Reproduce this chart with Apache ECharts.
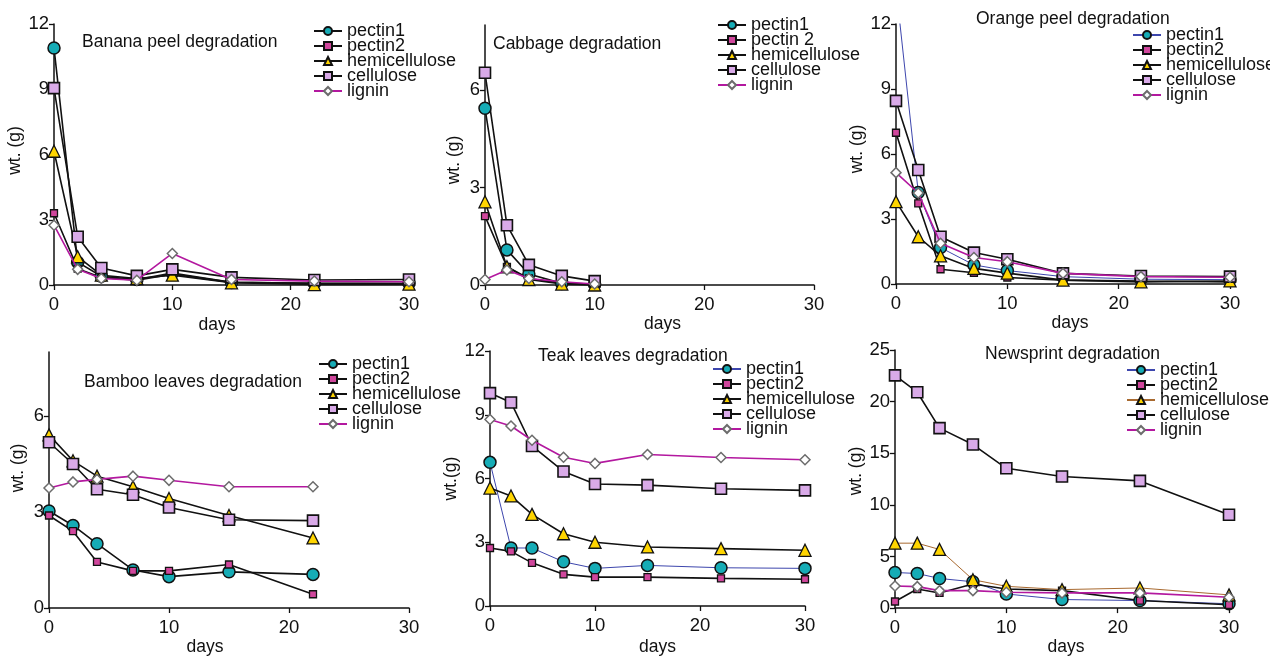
<!DOCTYPE html>
<html><head><meta charset="utf-8">
<script src="https://cdn.jsdelivr.net/npm/echarts@6/dist/echarts.min.js"></script>
<style>html,body{margin:0;padding:0;background:#fff}#c{width:1270px;height:657px}</style>
</head><body><div id="c"></div>
<script>
// ---------- data ----------
const days = [0, 2, 4, 7, 10, 15, 22, 30];
const cabbageDays = [0, 2, 4, 7, 10];
const bambooDays = [0, 2, 4, 7, 10, 15, 22];
const xTickValues = [0, 10, 20, 30];

const bananaPectin1   = [10.9, 1.05, 0.40, 0.25, 0.55, 0.12, 0.08, 0.08];
const bananaPectin2   = [3.3, 0.75, 0.35, 0.22, 0.50, 0.12, 0.08, 0.06];
const bananaHemi      = [6.15, 1.30, 0.45, 0.30, 0.45, 0.10, 0.02, 0.04];
const bananaCellulose = [9.05, 2.22, 0.78, 0.42, 0.72, 0.35, 0.23, 0.25];
const bananaLignin    = [2.75, 0.72, 0.30, 0.22, 1.45, 0.25, 0.18, 0.15];

const cabbagePectin1   = [5.44, 1.08, 0.34, 0.05, 0.03];
const cabbagePectin2   = [2.12, 0.56, 0.20, 0.05, 0.0];
const cabbageHemi      = [2.56, 0.56, 0.17, 0.03, 0.0];
const cabbageCellulose = [6.53, 1.84, 0.62, 0.28, 0.12];
const cabbageLignin    = [0.17, 0.46, 0.20, 0.10, 0.03];

const orangePectin1   = [13.7, 4.22, 1.68, 0.88, 0.62, 0.34, 0.22, 0.20];
const orangePectin2   = [6.98, 3.72, 0.68, 0.52, 0.30, 0.18, 0.14, 0.10];
const orangeHemi      = [3.80, 2.18, 1.30, 0.72, 0.50, 0.18, 0.10, 0.14];
const orangeCellulose = [8.45, 5.26, 2.18, 1.45, 1.14, 0.49, 0.37, 0.34];
const orangeLignin    = [5.14, 4.20, 1.88, 1.22, 1.03, 0.49, 0.34, 0.31];

const bambooPectin1   = [3.03, 2.58, 2.01, 1.19, 0.98, 1.13, 1.05];
const bambooPectin2   = [2.89, 2.40, 1.44, 1.16, 1.16, 1.36, 0.43];
const bambooHemi      = [5.41, 4.60, 4.12, 3.79, 3.42, 2.89, 2.19];
const bambooCellulose = [5.18, 4.50, 3.71, 3.54, 3.14, 2.76, 2.73];
const bambooLignin    = [3.75, 3.94, 4.02, 4.12, 3.99, 3.79, 3.79];

const teakPectin1   = [6.76, 2.73, 2.73, 2.08, 1.77, 1.91, 1.80, 1.77];
const teakPectin2   = [2.73, 2.57, 2.03, 1.49, 1.36, 1.36, 1.30, 1.26];
const teakHemi      = [5.55, 5.18, 4.31, 3.40, 3.00, 2.78, 2.70, 2.62];
const teakCellulose = [10.02, 9.58, 7.53, 6.33, 5.74, 5.69, 5.52, 5.44];
const teakLignin    = [8.78, 8.47, 7.80, 7.00, 6.71, 7.13, 6.99, 6.88];

const newsPectin1   = [3.45, 3.35, 2.87, 2.55, 1.37, 0.83, 0.73, 0.42];
const newsPectin2   = [0.64, 1.85, 1.47, 2.33, 1.85, 1.69, 0.73, 0.32];
const newsHemi      = [6.29, 6.29, 5.68, 2.75, 2.11, 1.79, 1.95, 1.28];
const newsCellulose = [22.54, 20.91, 17.43, 15.84, 13.54, 12.74, 12.32, 9.04];
const newsLignin    = [2.14, 2.08, 1.69, 1.69, 1.53, 1.47, 1.47, 1.05];

const titles = ['Banana peel degradation', 'Cabbage degradation', 'Orange peel degradation',
                'Bamboo leaves degradation', 'Teak leaves degradation', 'Newsprint degradation'];
const xName = 'days';
const yNames = ['wt. (g)', 'wt. (g)', 'wt. (g)', 'wt. (g)', 'wt.(g)', 'wt. (g)'];
const legendNames = [
  ['pectin1', 'pectin2', 'hemicellulose', 'cellulose', 'lignin'],
  ['pectin1', 'pectin 2', 'hemicellulose', 'cellulose', 'lignin'],
  ['pectin1', 'pectin2', 'hemicellulose', 'cellulose', 'lignin'],
  ['pectin1', 'pectin2', 'hemicellulose', 'cellulose', 'lignin'],
  ['pectin1', 'pectin2', 'hemicellulose', 'cellulose', 'lignin'],
  ['pectin1', 'pectin2', 'hemicellulose', 'cellulose', 'lignin']
];
const yMax = [12, 8, 12, 8, 12, 25];
const yInterval = [3, 3, 3, 3, 3, 5];
const yTickValues = [[0,3,6,9,12],[0,3,6],[0,3,6,9,12],[0,3,6],[0,3,6,9,12],[0,5,10,15,20,25]];

// ---------- layout / style ----------
const FONT = '"Liberation Sans", Arial, sans-serif';
const panels = [
  {x: days, vals: [bananaPectin1, bananaPectin2, bananaHemi, bananaCellulose, bananaLignin],
   grid: {left: 54, top: 24, width: 355, height: 261}, title: [82, 33], leg: [313, 22],
   yGap: 27, yShift: 8, xGap: 31, xShift: -29, lines: {}},
  {x: cabbageDays, vals: [cabbagePectin1, cabbagePectin2, cabbageHemi, cabbageCellulose, cabbageLignin],
   grid: {left: 485, top: 25, width: 329, height: 260}, title: [493, 35], leg: [717, 16],
   yGap: 22, yShift: -10, xGap: 27, xShift: 26, lines: {}},
  {x: days, vals: [orangePectin1, orangePectin2, orangeHemi, orangeCellulose, orangeLignin],
   grid: {left: 896, top: 24, width: 334, height: 260}, title: [976, 10], leg: [1132, 26],
   yGap: 25, yShift: 10, xGap: 26, xShift: 14, lines: {0: '#3d46ad'}},
  {x: bambooDays, vals: [bambooPectin1, bambooPectin2, bambooHemi, bambooCellulose, bambooLignin],
   grid: {left: 49, top: 352, width: 360, height: 258}, title: [84, 373], leg: [318, 355],
   yGap: 22, yShift: 24, xGap: 30, xShift: -48, lines: {}},
  {x: days, vals: [teakPectin1, teakPectin2, teakHemi, teakCellulose, teakLignin],
   grid: {left: 490, top: 351, width: 315, height: 258}, title: [538, 347], leg: [712, 360],
   yGap: 27, yShift: 0, xGap: 32, xShift: 20, lines: {0: '#3d46ad'}},
  {x: days, vals: [newsPectin1, newsPectin2, newsHemi, newsCellulose, newsLignin],
   grid: {left: 895, top: 350, width: 334, height: 261}, title: [985, 345], leg: [1126, 361],
   yGap: 30, yShift: 16, xGap: 29, xShift: 8, lines: {0: '#3d46ad', 2: '#a8692f'}}
];

const markers = [
  {symbol: 'circle',   size: 12, fill: '#16acb6', border: '#111', bw: 1.5},
  {symbol: 'rect',     size: 7,  fill: '#d0469c', border: '#111', bw: 1.3},
  {symbol: 'triangle', size: 12, fill: '#ffd500', border: '#111', bw: 1.3},
  {symbol: 'rect',     size: 11, fill: '#d9aae8', border: '#111', bw: 1.6},
  {symbol: 'diamond',  size: 10, fill: '#ffffff', border: '#6c6c6c', bw: 1.5}
];
const defaultLine = ['#111', '#111', '#111', '#111', '#b3189f'];

const grid = [], xAxis = [], yAxis = [], series = [], legend = [], title = [];
panels.forEach((p, i) => {
  grid.push(Object.assign({containLabel: false}, p.grid));
  title.push({text: titles[i], left: p.title[0], top: p.title[1], padding: 0,
    textStyle: {fontFamily: FONT, fontSize: 17.5, fontWeight: 'normal', color: '#111'}});
  xAxis.push({type: 'value', gridIndex: i, min: 0, max: 30, interval: 10,
    name: xName, nameLocation: 'middle', nameGap: p.xGap,
    nameTextStyle: {fontFamily: FONT, fontSize: 17.5, color: '#111',
      padding: p.xShift >= 0 ? [0, 0, 0, p.xShift] : [0, -p.xShift, 0, 0]},
    axisLine: {show: true, onZero: false, lineStyle: {color: '#111', width: 1.5}},
    axisTick: {show: true, length: 5, lineStyle: {color: '#111', width: 1.3}, customValues: xTickValues},
    axisLabel: {fontFamily: FONT, fontSize: 18.5, color: '#111', margin: 10, customValues: xTickValues},
    splitLine: {show: false}});
  yAxis.push({type: 'value', gridIndex: i, min: 0, max: yMax[i], interval: yInterval[i],
    name: yNames[i], nameLocation: 'middle', nameGap: p.yGap,
    nameTextStyle: {fontFamily: FONT, fontSize: 17.5, color: '#111',
      padding: p.yShift >= 0 ? [0, 0, 0, p.yShift] : [0, -p.yShift, 0, 0]},
    axisLine: {show: true, onZero: false, lineStyle: {color: '#111', width: 1.5}},
    axisTick: {show: true, length: 5, lineStyle: {color: '#111', width: 1.3}, customValues: yTickValues[i]},
    axisLabel: {fontFamily: FONT, fontSize: 18.5, color: '#111', margin: 5, customValues: yTickValues[i]},
    splitLine: {show: false}});
  const names = [];
  p.vals.forEach((vals, k) => {
    const m = markers[k];
    const lc = p.lines[k] || defaultLine[k];
    const thin = lc === '#3d46ad' || lc === '#a8692f';
    const nm = 'p' + i + '|' + legendNames[i][k];
    names.push(nm);
    series.push({type: 'line', name: nm, xAxisIndex: i, yAxisIndex: i,
      data: p.x.map((d, j) => [d, vals[j]]),
      symbol: m.symbol, symbolSize: m.size, showAllSymbol: true, clip: true,
      lineStyle: {color: lc, width: thin ? 1 : 1.6},
      itemStyle: {color: m.fill, borderColor: m.border, borderWidth: m.bw},
      emphasis: {disabled: true}, animation: false, z: k === 4 ? 3 : 2});
  });
  legend.push({data: names, orient: 'vertical', left: p.leg[0], top: p.leg[1],
    itemWidth: 28, itemHeight: 10, itemGap: -3, padding: 0, selectedMode: false,
    formatter: n => n.split('|')[1],
    textStyle: {fontFamily: FONT, fontSize: 18, color: '#111', lineHeight: 15}});
});

const chart = echarts.init(document.getElementById('c'), null, {renderer: 'canvas'});
chart.setOption({backgroundColor: '#fff', animation: false, title, grid, xAxis, yAxis, series, legend});
</script>
</body></html>
